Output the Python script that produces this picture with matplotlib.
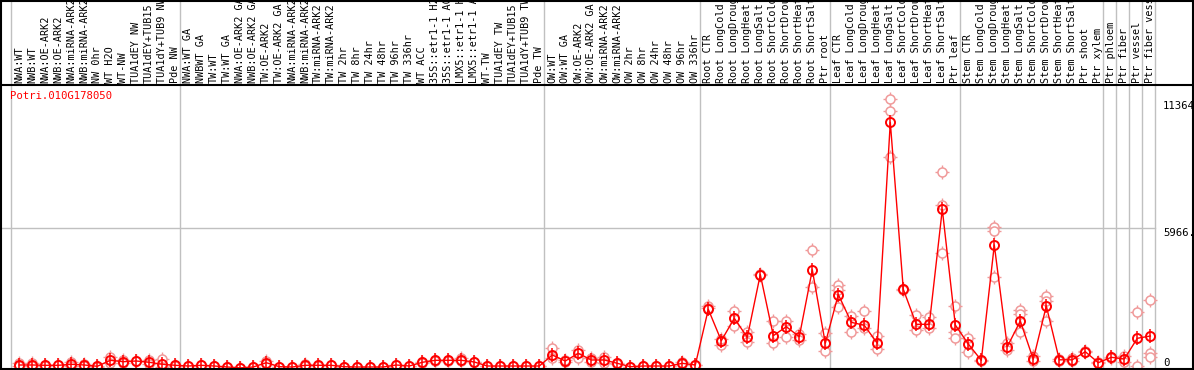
import matplotlib
matplotlib.use("Agg")
import matplotlib.pyplot as plt
from matplotlib import transforms

# ---------------- data ----------------
gene_name = "Potri.010G178050"

labels = [
    # group 1
    "NWA:WT", "NWB:WT", "NWA:OE-ARK2", "NWB:OE-ARK2", "NWA:miRNA-ARK2", "NWB:miRNA-ARK2",
    "NW 0hr", "WT H2O", "WT-NW", "TUA1dEY NW", "TUA1dEY+TUB15", "TUA1dY+TUB9 NW", "Pde NW",
    # group 2
    "NWA:WT GA", "NWBWT GA", "TW:WT", "TW:WT GA", "NWA:OE-ARK2 GA", "NWB:OE-ARK2 GA",
    "TW:OE-ARK2", "TW:OE-ARK2 GA", "NWA:miRNA-ARK2", "NWB:miRNA-ARK2", "TW:miRNA-ARK2",
    "TW:miRNA-ARK2", "TW 2hr", "TW 8hr", "TW 24hr", "TW 48hr", "TW 96hr", "TW 336hr",
    "WT ACC", "35S::etr1-1 H2", "35S::etr1-1 AC", "LMX5::etr1-1 H", "LMX5::etr1-1 A",
    "WT-TW", "TUA1dEY TW", "TUA1dEY+TUB15", "TUA1dY+TUB9 TW", "Pde TW",
    # group 3
    "OW:WT", "OW:WT GA", "OW:OE-ARK2", "OW:OE-ARK2 GA", "OW:miRNA-ARK2", "OW:miRNA-ARK2",
    "OW 2hr", "OW 8hr", "OW 24hr", "OW 48hr", "OW 96hr", "OW 336hr",
    # root
    "Root CTR", "Root LongCold", "Root LongDroug", "Root LongHeat", "Root LongSalt",
    "Root ShortCold", "Root ShortDrou", "Root ShortHeat", "Root ShortSalt", "Ptr root",
    # leaf
    "Leaf CTR", "Leaf LongCold", "Leaf LongDroug", "Leaf LongHeat", "Leaf LongSalt",
    "Leaf ShortCold", "Leaf ShortDrou", "Leaf ShortHeat", "Leaf ShortSalt", "Ptr leaf",
    # stem
    "Stem CTR", "Stem LongCold", "Stem LongDroug", "Stem LongHeat", "Stem LongSalt",
    "Stem ShortCold", "Stem ShortDrou", "Stem ShortHeat", "Stem ShortSalt", "Ptr shoot",
    "Ptr xylem",
    # tissues
    "Ptr phloem", "Ptr fiber", "Ptr vessel", "Ptr fiber vess",
]

means = [
    128, 128, 115, 115, 158, 128, 72, 328, 268, 298, 243, 158, 115,
    85, 115, 85, 43, 5, 43, 226, 55, 43, 115, 115, 115, 55, 43, 43, 43, 128, 85,
    243, 328, 328, 328, 256, 85, 85, 85, 85, 85,
    554, 298, 626, 341, 341, 200, 55, 85, 85, 85, 200, 128,
    2500, 1163, 2117, 1308, 3983, 1376, 1759, 1334, 4183, 1052,
    3131, 1947, 1819, 1052, 10467, 3353, 1862, 1862, 6761, 1832,
    1022, 327, 5240, 909, 2002, 371, 2641, 349, 349, 694, 226,
    456, 383, 1265, 1363,
]

replicates = [
    [200, 100], [200, 100], [130, 100], [120, 110], [243, 90], [160, 100], [80, 60],
    [450, 230], [330, 200], [310, 290], [350, 150], [383, 55], [130, 100],
    [100, 70], [120, 110], [90, 80], [50, 40], [10, 0], [50, 40], [300, 150], [60, 50],
    [50, 40], [150, 90], [140, 100], [120, 110], [60, 50], [50, 40], [50, 40], [50, 40],
    [140, 120], [90, 80], [260, 230], [340, 310], [350, 310], [420, 300], [270, 240],
    [90, 80], [90, 80], [90, 80], [90, 80], [90, 80],
    [865, 420], [250, 350], [767, 440], [420, 250], [460, 210], [230, 170], [60, 50],
    [90, 80], [90, 80], [90, 80], [260, 150], [140, 110],
    [2662, 2560], [980, 1250], [2428, 1802], [1547, 1095], [4000, 3950], [2002, 1052],
    [2015, 1334], [1450, 1200], [5048, 3442], [1504, 737],
    [3557, 3340, 2611], [2215, 1521], [2415, 1700], [1363, 797], [11450, 10935, 8976],
    [3380, 3330], [2258, 1619], [2186, 1691], [8340, 6944, 4917], [2641, 1547, 1292],
    [1292, 668], [350, 300], [5994, 5851, 3864], [1050, 750], [2471, 1521, 2300],
    [500, 300], [3080, 2846, 2015], [400, 300], [430, 300], [720, 670], [240, 210],
    [470, 440], [500, 250], [2398, 85], [2905, 652, 460],
]

group_starts = [0, 13, 41, 53, 63, 73, 84, 85, 86, 87, 88]
y_ticks = [0, 5966, 11364]
y_tick_labels = ["0", "5966.", "11364"]
grid_values = [5966]

# ---------------- layout / style ----------------
W, H = 1194, 370
X0PX, XSTEP = 19.3, 13.0        # pixel x of first column centre, column pitch
Y0PX, YSCALE = 368.0, 0.02347   # pixel y of value 0, pixels per unit
RED = "#ff0000"
PINK = "#f09a9a"
GRAY = "#c0c0c0"
FONT = "DejaVu Sans Mono"
FS = 7.3

fig = plt.figure(figsize=(W / 100, H / 100), dpi=100)
ax = fig.add_axes([0, 0, 1, 1])
ax.set_xlim(-X0PX / XSTEP, (W - X0PX) / XSTEP)
ax.set_ylim(-(H - Y0PX) / YSCALE, Y0PX / YSCALE)
ax.axis("off")

def fx(px):
    return px / W

def fy(py):
    return 1 - py / H

xs = list(range(len(labels)))
last_x = len(labels) - 0.62

# vertical group separators
for b in group_starts:
    ax.axvline(b - 0.62, color=GRAY, lw=1.0, zorder=1)

# horizontal grid line
for g in grid_values:
    ax.plot([ax.get_xlim()[0], last_x], [g, g], color=GRAY, lw=1.0, zorder=1)

# replicate points
rx, ry = [], []
for i, reps in enumerate(replicates):
    for r in reps:
        rx.append(i)
        ry.append(r)
ax.plot(rx, ry, ls="none", marker="+", ms=10, mew=1.0, color=PINK, zorder=2)
ax.plot(rx, ry, ls="none", marker="o", ms=6.5, mew=1.1, mec=PINK, mfc="white", zorder=3)

# mean line and markers
ax.plot(xs, means, color=RED, lw=1.0, zorder=4)
ax.plot(xs, means, ls="none", marker="|", ms=9.5, mew=1.1, color=RED, zorder=5)
ax.plot(xs, means, ls="none", marker="o", ms=6.5, mew=1.4, mec=RED, mfc="none", zorder=5)

# column labels
lab_tr = transforms.blended_transform_factory(ax.transData, ax.transAxes)
for i, lab in enumerate(labels):
    ax.text(i, fy(83), lab, rotation=90, ha="center", va="bottom",
            fontsize=FS, family=FONT, color="black", transform=lab_tr, zorder=6)

# gene name
ax.text(fx(10), fy(91), gene_name, ha="left", va="top", fontsize=FS + 0.4,
        family=FONT, color=RED, transform=ax.transAxes, zorder=6)

# right-hand value labels
val_tr = transforms.blended_transform_factory(ax.transAxes, ax.transData)
for v, t in zip(y_ticks, y_tick_labels):
    ax.text(fx(1163), v, t, ha="left", va="bottom" if v == 0 else "top",
            fontsize=FS + 0.4, family=FONT, color="black", transform=val_tr, zorder=6)

# black frame
frame_kw = dict(color="black", lw=1.5, transform=ax.transAxes, clip_on=False, zorder=7)
ax.plot([fx(0.5), fx(0.5)], [fy(0), fy(369)], **frame_kw)
ax.plot([fx(1193), fx(1193)], [fy(0), fy(369)], **frame_kw)
ax.plot([fx(0), fx(1194)], [fy(0.5), fy(0.5)], **frame_kw)
ax.plot([fx(0), fx(1194)], [fy(85), fy(85)], **frame_kw)
ax.plot([fx(0), fx(1194)], [fy(369), fy(369)], **frame_kw)

fig.savefig("out.png", dpi=100)
